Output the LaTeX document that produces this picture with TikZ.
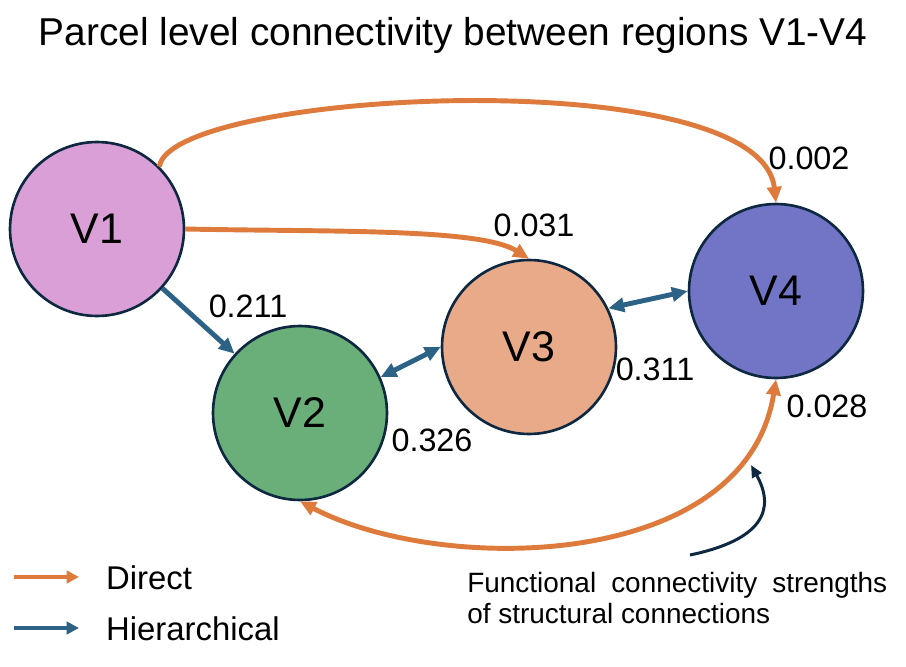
\documentclass[tikz,border=0pt]{standalone}
\usepackage{fontspec}
\setmainfont{Liberation Sans}
\usetikzlibrary{arrows.meta}
\definecolor{directorange}{RGB}{222, 122, 60}
\definecolor{hierblue}{RGB}{44, 98, 134}
\definecolor{rimnavy}{RGB}{14, 40, 65}
\definecolor{vonepink}{RGB}{217, 159, 214}
\definecolor{vtwogreen}{RGB}{106, 175, 121}
\definecolor{vthreepeach}{RGB}{232, 170, 136}
\definecolor{vfourblue}{RGB}{114, 117, 197}

\begin{document}
\begin{tikzpicture}[x=0.02cm, y=-0.02cm,
        region/.style={draw=rimnavy, line width=1.5pt, circle, minimum size=3.48cm, inner sep=0pt, font=\fontsize{24.4}{28}\selectfont},
        weight/.style={font=\fontsize{18.4}{22}\selectfont},
        direct/.style={draw=directorange, line width=2.8pt, -{Triangle[length=9pt, width=8pt]}},
        hier/.style={draw=hierblue, line width=2.8pt, -{Triangle[length=9pt, width=8pt]}},
        both/.style={{Triangle[length=9pt, width=8pt]}-{Triangle[length=9pt, width=8pt]}},
        keytext/.style={anchor=base west, font=\fontsize{18.7}{22}\selectfont}]

            \useasboundingbox (0, 0) rectangle (906, 666);

            \node[anchor=base, font=\fontsize{22.1}{26}\selectfont] (title) at (453, 45) {Parcel level connectivity between regions V1-V4};

            % the four regions
            \node[region, fill=vonepink] (v1) at (97, 229) {V1};
            \node[region, fill=vtwogreen] (v2) at (300, 413) {V2};
            \node[region, fill=vthreepeach] (v3) at (529, 347) {V3};
            \node[region, fill=vfourblue] (v4) at (776, 291) {V4};

            % direct connections
            \draw[direct] (v1.45) .. controls (170, 90) and (760, 60) .. (v4.north);
            \draw[direct] (v1.east) .. controls (330, 232) and (480, 228) .. (v3.north);
            \draw[direct, both] (v4.south) .. controls (745, 572) and (440, 575) .. (v2.south);

            % hierarchical connections
            \draw[hier] (v1) -- (v2);
            \draw[hier, both] (v2.24) -- (v3.west);
            \draw[hier, both] (v3.26) -- (v4.west);

            % strengths next to the arrows
            \foreach \nm/\val/\x/\y in {wvfour/0.002/809/158, wvthree/0.031/534/225, wvtwo/0.211/248/306,
                    wtwothree/0.326/432/440, wthreefour/0.311/655/369, wback/0.028/827/406}
            \node[weight] (\nm) at (\x, \y) {\val};

            % legend
            \coordinate (dira) at (14, 577);
            \coordinate (dirb) at (79, 577);
            \coordinate (hiera) at (14, 628);
            \coordinate (hierb) at (79, 628);
            \draw[direct, line width=2.3pt, -{Triangle[length=7pt, width=7pt]}] (dira) -- (dirb);
            \draw[hier, line width=2.3pt, -{Triangle[length=7pt, width=7pt]}] (hiera) -- (hierb);
            \node[keytext] (dirtext) at (100, 589) {Direct};
            \node[keytext] (hiertext) at (100, 640) {Hierarchical};

            % note about the numbers
            \node[anchor=base west, align=left, inner sep=0pt, font=\fontsize{15.9}{17.6}\selectfont] (note) at (467, 623)
                {\makebox[8.4cm][s]{Functional connectivity strengths}\\of structural connections};
            \coordinate (notetail) at (690, 555);
            \coordinate (notetip) at (751, 465);
            \draw[rimnavy, line width=1.7pt, -{Triangle[length=7pt, width=6pt]}] (notetail) .. controls (762, 540) and (776, 510) .. (notetip);

        \end{tikzpicture}
\end{document}
